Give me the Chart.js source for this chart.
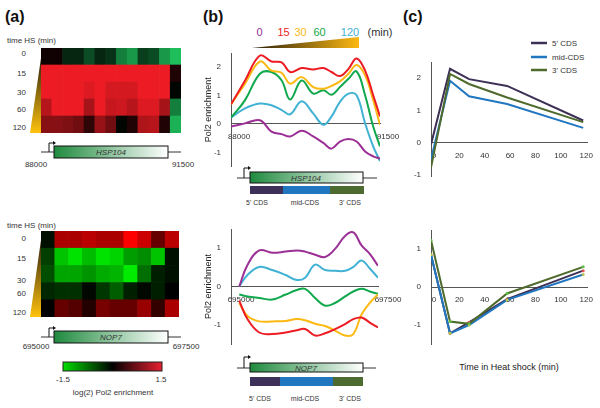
<!DOCTYPE html>
<html>
<head>
<meta charset="utf-8">
<script src="https://cdn.jsdelivr.net/npm/chart.js@4/dist/chart.umd.min.js"></script>
<style>
body { margin: 0; background: #fff; }
#fig { position: relative; width: 600px; height: 408px; overflow: hidden; font-family: "Liberation Sans", Arial, sans-serif; }
#fig svg, #fig canvas { position: absolute; }
</style>
</head>
<body>
<div id="fig">
<svg width="600" height="408" style="left:0;top:0" font-family="Liberation Sans, Arial, sans-serif" fill="#333">
  <defs>
    <linearGradient id="yelV" x1="0" y1="0" x2="0" y2="1">
      <stop offset="0" stop-color="#2a1f0c"/><stop offset="1" stop-color="#ffc20e"/>
    </linearGradient>
    <linearGradient id="yelH" x1="0" y1="0" x2="1" y2="0">
      <stop offset="0" stop-color="#2a1f0c"/><stop offset="1" stop-color="#fdb913"/>
    </linearGradient>
    <linearGradient id="gene" x1="0" y1="0" x2="1" y2="0">
      <stop offset="0" stop-color="#1f8a3e"/><stop offset="1" stop-color="#ffffff"/>
    </linearGradient>
    <linearGradient id="heat" x1="0" y1="0" x2="1" y2="0">
      <stop offset="0" stop-color="#00dd00"/><stop offset="0.5" stop-color="#000000"/><stop offset="1" stop-color="#e82030"/>
    </linearGradient>
  </defs>

  <!-- panel letters -->
  <text x="5" y="22" font-size="16" font-weight="bold" fill="#111">(a)</text>
  <text x="203" y="22" font-size="16" font-weight="bold" fill="#111">(b)</text>
  <text x="403" y="22" font-size="16" font-weight="bold" fill="#111">(c)</text>

  <!-- (a) top -->
  <text x="7" y="43" font-size="8">time HS (min)</text>
  <g font-size="8" text-anchor="end">
    <text x="26" y="56">0</text><text x="26" y="76">15</text><text x="26" y="95">30</text>
    <text x="26" y="112">60</text><text x="26" y="130">120</text>
  </g>
  <polygon points="41,58 41,133 30,133" fill="url(#yelV)"/>
  <line x1="41" y1="152" x2="181" y2="152" stroke="#333"/>
  <rect x="54" y="146" width="114" height="12" fill="url(#gene)" stroke="#111"/>
  <polyline points="49,152 49,143 54,143" fill="none" stroke="#111"/>
  <polygon points="56,143 53,141 53,145" fill="#111"/>
  <text x="111" y="155" font-size="8" font-style="italic" text-anchor="middle">HSP104</text>
  <text x="36" y="167" font-size="8" text-anchor="middle">88000</text>
  <text x="183" y="167" font-size="8" text-anchor="middle">91500</text>

  <!-- (a) bottom -->
  <text x="7" y="228" font-size="8">time HS (min)</text>
  <g font-size="8" text-anchor="end">
    <text x="26" y="241">0</text><text x="26" y="261">15</text><text x="26" y="283">30</text>
    <text x="26" y="296">60</text><text x="26" y="315">120</text>
  </g>
  <polygon points="41,240 41,317 30,317" fill="url(#yelV)"/>
  <line x1="41" y1="337" x2="181" y2="337" stroke="#333"/>
  <rect x="54" y="331" width="114" height="12" fill="url(#gene)" stroke="#111"/>
  <polyline points="49,337 49,328 54,328" fill="none" stroke="#111"/>
  <polygon points="56,328 53,326 53,330" fill="#111"/>
  <text x="111" y="340" font-size="8" font-style="italic" text-anchor="middle">NOP7</text>
  <text x="36" y="349" font-size="8" text-anchor="middle">695000</text>
  <text x="186" y="349" font-size="8" text-anchor="middle">697500</text>
  <rect x="63" y="362" width="99" height="9" fill="url(#heat)" stroke="#222"/>
  <text x="63" y="382" font-size="8" text-anchor="middle">-1.5</text>
  <text x="161" y="382" font-size="8" text-anchor="middle">1.5</text>
  <text x="113" y="395" font-size="8" text-anchor="middle">log(2) Pol2 enrichment</text>

  <!-- (b) legend -->
  <g font-size="11" text-anchor="middle">
    <text x="259.5" y="36" fill="#9b2f95">0</text>
    <text x="283.5" y="36" fill="#ed1c24">15</text>
    <text x="300.5" y="36" fill="#fdb913">30</text>
    <text x="319.5" y="36" fill="#10a84c">60</text>
    <text x="350" y="36" fill="#41b2d4">120</text>
    <text x="380" y="36" fill="#333">(min)</text>
  </g>
  <polygon points="252,48 359,37 359,48" fill="url(#yelH)"/>

  <!-- (b) top gene -->
  <line x1="237" y1="178" x2="377" y2="178" stroke="#333"/>
  <rect x="250" y="172" width="113" height="11" fill="url(#gene)" stroke="#111"/>
  <polyline points="244,178 244,168 249,168" fill="none" stroke="#111"/>
  <polygon points="251,168 248,166 248,170" fill="#111"/>
  <text x="306" y="181" font-size="8" font-style="italic" text-anchor="middle">HSP104</text>
  <rect x="250" y="186" width="33" height="8" fill="#3d3159"/>
  <rect x="283" y="186" width="47" height="8" fill="#2077bf"/>
  <rect x="330" y="186" width="34" height="8" fill="#4d6b31"/>
  <g font-size="7" text-anchor="middle">
    <text x="257" y="205">5' CDS</text><text x="305" y="205">mid-CDS</text><text x="350" y="205">3' CDS</text>
  </g>

  <!-- (b) bottom gene -->
  <line x1="237" y1="368" x2="376" y2="368" stroke="#333"/>
  <rect x="250" y="363" width="113" height="9" fill="url(#gene)" stroke="#111"/>
  <polyline points="244,368 244,357 249,357" fill="none" stroke="#111"/>
  <polygon points="251,357 248,355 248,359" fill="#111"/>
  <text x="306" y="370.5" font-size="8" font-style="italic" text-anchor="middle">NOP7</text>
  <rect x="250" y="377" width="30" height="9" fill="#3d3159"/>
  <rect x="280" y="377" width="53" height="9" fill="#2077bf"/>
  <rect x="333" y="377" width="30" height="9" fill="#4d6b31"/>
  <g font-size="7" text-anchor="middle">
    <text x="260" y="401">5' CDS</text><text x="305" y="401">mid-CDS</text><text x="350" y="401">3' CDS</text>
  </g>

  <!-- (c) legend -->
  <line x1="531" y1="43" x2="547" y2="43" stroke="#3d3055" stroke-width="2.5"/>
  <line x1="531" y1="57" x2="547" y2="57" stroke="#2176c0" stroke-width="2.5"/>
  <line x1="531" y1="70" x2="547" y2="70" stroke="#4e6a2c" stroke-width="2.5"/>
  <g font-size="8">
    <text x="552" y="46">5' CDS</text><text x="552" y="60">mid-CDS</text><text x="552" y="73">3' CDS</text>
  </g>
  <text x="509" y="370" font-size="9" text-anchor="middle" fill="#222">Time in Heat shock (min)</text>
</svg>

<canvas id="heatTop" width="140" height="85" style="left:41px;top:48px"></canvas>
<canvas id="heatBot" width="138" height="86" style="left:41px;top:231px"></canvas>
<canvas id="bTop" width="215" height="130" style="left:200px;top:45px"></canvas>
<canvas id="bBot" width="215" height="130" style="left:200px;top:221px"></canvas>
<canvas id="cTop" width="198" height="130" style="left:400px;top:54px"></canvas>
<canvas id="cBot" width="198" height="130" style="left:400px;top:222px"></canvas>
</div>

<script>
// heatmap values, log2 Pol2 enrichment, one array per heat shock time
const hsp0 = [0.1, 0.1, -0.3, -0.3, -0.6, -0.3, -0.4, -1.0, -1.2, -0.5, -0.6, -1.2, -1.5]
const hsp15 = [1.5, 1.5, 1.5, 1.5, 1.5, 1.5, 1.5, 1.5, 1.5, 1.5, 1.5, 1.5, 0.2]
const hsp30 = [1.5, 1.5, 1.5, 1.5, 1.4, 1.5, 1.35, 1.35, 1.35, 1.5, 1.5, 1.5, -0.05]
const hsp60 = [1.15, 1.5, 1.5, 1.5, 1.05, 1.5, 1.25, 1.3, 1.15, 1.4, 1.4, 1.05, -1.0]
const hsp120 = [0.85, 0.85, 0.8, 0.7, 0.3, 0.95, 0.7, -0.05, 0.2, 1.1, 1.15, 0.2, -1.4]

const nop0 = [-0.1, 1.0, 1.0, 1.1, 1.0, 1.0, 1.5, 1.2, 0.6, 1.1]
const nop15 = [-0.4, -1.25, -1.45, -1.2, -1.45, -1.35, -1.0, -0.9, -1.25, -0.1]
const nop30 = [-0.5, -1.05, -1.05, -0.95, -1.1, -1.15, -1.5, -0.7, -0.2, -0.1]
const nop60 = [-0.25, -0.3, -0.3, -0.05, -0.35, -0.6, -0.2, -0.05, -0.2, 0]
const nop120 = [0, 0.6, 0.5, 0.2, 0.7, 0.6, 0.6, 0.9, 0.3, 1.0]

// (b) profiles along the genes
const hspPos = [88000, 88330, 88680, 88950, 89190, 89390, 89660, 89930, 90170, 90360, 90560, 90760, 90950, 91150, 91340, 91500]
const hspT0 = [-0.09, 0.02, 0.13, -0.27, -0.36, -0.44, -0.24, -0.44, -0.67, -0.87, -0.62, -0.53, -0.62, -0.97, -1.14, -1.22]
const hspT15 = [0.69, 1.53, 2.41, 2.2, 2.17, 1.83, 1.97, 1.92, 1.97, 1.83, 1.69, 1.94, 2.31, 1.88, 1.01, 0.26]
const hspT30 = [0.69, 1.42, 2.2, 1.88, 1.8, 1.42, 1.65, 1.3, 1.24, 1.34, 1.5, 1.77, 2.08, 1.71, 0.84, -0.03]
const hspT60 = [0.22, 0.84, 1.77, 1.83, 1.53, 0.86, 1.53, 1.07, 1.19, 1.03, 1.3, 1.59, 1.85, 1.01, -0.09, -0.79]
const hspT120 = [0.22, 0.55, 0.72, 0.66, 0.49, 0.34, 0.8, 0.37, -0.03, 0.26, 0.78, 1.07, 1.01, 0.02, -0.79, -1.31]

const nopPos = [695140, 695280, 695480, 695700, 695930, 696120, 696260, 696430, 696600, 696770, 696940, 697080, 697220, 697360, 697500]
const nopT0 = [0, 0.56, 0.94, 0.88, 0.91, 0.94, 0.91, 0.83, 0.77, 0.98, 1.32, 1.41, 1.07, 0.85, 0.54]
const nopT15 = [-0.37, -0.85, -1.2, -1.24, -1.2, -1.14, -1.11, -1.28, -1.22, -1.11, -0.98, -0.85, -0.81, -0.94, -1.07]
const nopT30 = [-0.43, -0.77, -0.91, -0.91, -0.9, -0.85, -0.88, -0.97, -1.03, -1.15, -1.28, -1.24, -0.73, -0.43, -0.21]
const nopT60 = [-0.21, -0.26, -0.3, -0.34, -0.21, -0.09, -0.06, -0.3, -0.5, -0.43, -0.26, -0.13, -0.06, -0.13, -0.19]
const nopT120 = [0, 0.3, 0.51, 0.43, 0.3, 0.17, 0.23, 0.57, 0.43, 0.41, 0.41, 0.51, 0.68, 0.47, 0.23]

// (c) mean enrichment per gene region over time
const hsTimes = [0, 15, 30, 60, 120]
const hsp5 = [-0.05, 2.29, 1.97, 1.76, 0.69]
const hspMid = [-0.51, 1.92, 1.44, 1.2, 0.46]
const hsp3 = [-0.77, 2.13, 1.82, 1.4, 0.64]
const nop5 = [0.85, -1.22, -0.93, -0.32, 0.43]
const nopMid = [0.85, -1.22, -1.0, -0.34, 0.33]
const nop3 = [1.23, -0.91, -0.97, -0.17, 0.53]

const TIME_COLORS = ['#9b2f95', '#ed1c24', '#fdb913', '#10a84c', '#41b2d4']
const CDS_COLORS = { five: '#3d3055', mid: '#2176c0', three: '#4e6a2c' }

Chart.defaults.font.family = '"Liberation Sans", Arial, sans-serif'
Chart.defaults.font.size = 8
Chart.defaults.color = '#333'
Chart.defaults.animation = false
Chart.defaults.responsive = false
Chart.defaults.plugins.legend.display = false
Chart.defaults.plugins.tooltip.enabled = false

function heatColor(v, lo, hi) {
    const t = Math.min(Math.abs(v) / 1.5, 1)
    const c = v < 0 ? lo : hi
    return 'rgb(' + Math.round(c[0] * t) + ',' + Math.round(c[1] * t) + ',' + Math.round(c[2] * t) + ')'
}

function heatChart(id, rows, lo, hi) {
    // rows are listed top to bottom, stacked bars build from the bottom
    const datasets = rows.slice().reverse().map((r) => ({
        data: r.map(() => 1),
        backgroundColor: r.map((v) => heatColor(v, lo, hi)),
        borderWidth: 0,
        categoryPercentage: 1,
        barPercentage: 1,
    }))
    return new Chart(document.getElementById(id), {
        type: 'bar',
        data: { labels: rows[0].map((_, i) => i + 1), datasets: datasets },
        options: {
            layout: { padding: 0 },
            scales: {
                x: { stacked: true, display: false },
                y: { stacked: true, display: false, min: 0, max: rows.length },
            },
        },
    })
}

function lineChart(id, cfg) {
    const datasets = cfg.series.map((s) => ({
        data: cfg.xs.map((x, i) => ({ x: x, y: s.ys[i] })),
        borderColor: s.color,
        borderWidth: cfg.lineWidth,
        tension: cfg.tension,
        pointRadius: cfg.pointRadius || 0,
        pointBackgroundColor: s.point || s.color,
        pointBorderWidth: 0,
        fill: false,
    }))
    return new Chart(document.getElementById(id), {
        type: 'line',
        data: { datasets: datasets },
        options: {
            layout: { padding: cfg.padding },
            scales: {
                x: {
                    type: 'linear',
                    position: { y: 0 },
                    min: cfg.xMin,
                    max: cfg.xMax,
                    grid: { display: false },
                    border: { color: '#555', width: 1 },
                    afterBuildTicks: (s) => { s.ticks = cfg.xTicks.map((v) => ({ value: v })) },
                    ticks: { padding: 0, labelOffset: cfg.labelOffset, maxRotation: 0, autoSkip: false, callback: (v) => String(v) },
                },
                y: {
                    min: cfg.yMin,
                    max: cfg.yMax,
                    grid: { display: false },
                    border: { color: '#555', width: 1 },
                    afterBuildTicks: (s) => { s.ticks = cfg.yTicks.map((v) => ({ value: v })) },
                    afterFit: (s) => { s.width = 31 },
                    ticks: { padding: 2 },
                    title: {
                        display: !!cfg.yTitle,
                        text: cfg.yTitle,
                        font: { size: 9 },
                        color: '#222',
                        padding: { top: 3, bottom: 0 },
                    },
                },
            },
        },
    })
}

heatChart('heatTop', [hsp0, hsp15, hsp30, hsp60, hsp120], [30, 190, 90], [237, 28, 36])
heatChart('heatBot', [nop0, nop15, nop30, nop60, nop120], [0, 235, 0], [255, 0, 0])

lineChart('bTop', {
    xs: hspPos,
    series: [hspT0, hspT15, hspT30, hspT60, hspT120].map((ys, i) => ({ ys: ys, color: TIME_COLORS[i] })),
    xMin: 88000, xMax: 91500, xTicks: [88000, 91500], labelOffset: 8,
    yMin: -1.5, yMax: 2.5, yTicks: [-1, 0, 1, 2],
    padding: { left: 0, top: 8, bottom: 8.5, right: 35 },
    lineWidth: 2, tension: 0.4, yTitle: 'Pol2 enrichment',
})

lineChart('bBot', {
    xs: nopPos,
    series: [nopT0, nopT15, nopT30, nopT60, nopT120].map((ys, i) => ({ ys: ys, color: TIME_COLORS[i] })),
    xMin: 695000, xMax: 697500, xTicks: [695000, 697500], labelOffset: 10,
    yMin: -1.5, yMax: 1.5, yTicks: [-1, 0, 1],
    padding: { left: 0, top: 8, bottom: 7, right: 37 },
    lineWidth: 2, tension: 0.4, yTitle: 'Pol2 enrichment',
})

lineChart('cTop', {
    xs: hsTimes,
    series: [
        { ys: hsp3, color: CDS_COLORS.three },
        { ys: hspMid, color: CDS_COLORS.mid },
        { ys: hsp5, color: CDS_COLORS.five },
    ],
    xMin: 0, xMax: 123, xTicks: [0, 20, 40, 60, 80, 100, 120], labelOffset: 3,
    yMin: -1.05, yMax: 2.5, yTicks: [-1, 0, 1, 2],
    padding: { left: 0, top: 8, bottom: 7.3, right: 11 },
    lineWidth: 2, tension: 0,
})

lineChart('cBot', {
    xs: hsTimes,
    series: [
        { ys: nop3, color: CDS_COLORS.three, point: '#5cc040' },
        { ys: nopMid, color: CDS_COLORS.mid, point: '#b8c848' },
        { ys: nop5, color: CDS_COLORS.five, point: '#e0505a' },
    ],
    xMin: 0, xMax: 123, xTicks: [0, 20, 40, 60, 80, 100, 120], labelOffset: 3,
    yMin: -1.5, yMax: 1.5, yTicks: [-1, 0, 1],
    padding: { left: 0, top: 8, bottom: 8, right: 11 },
    lineWidth: 2, tension: 0, pointRadius: 1.5,
})
</script>
</body>
</html>
